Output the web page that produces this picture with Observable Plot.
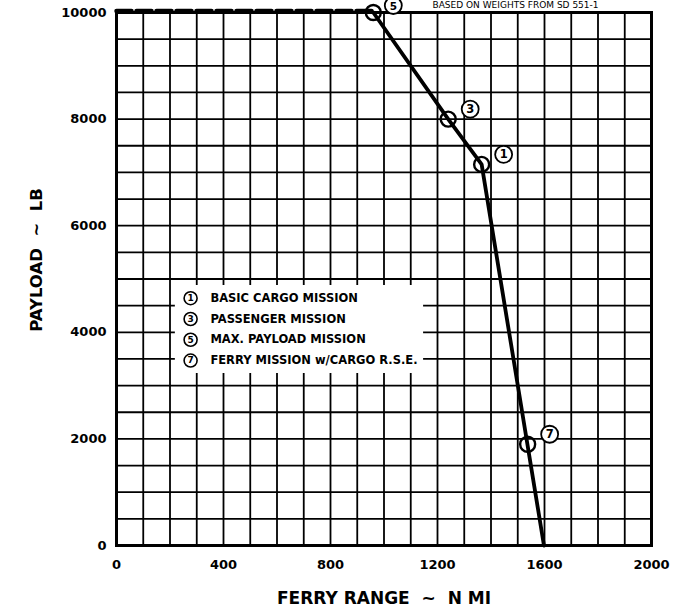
<!DOCTYPE html>
<html>
<head>
<meta charset="utf-8">
<script src="https://cdn.jsdelivr.net/npm/d3@7"></script>
<script src="https://cdn.jsdelivr.net/npm/@observablehq/plot@0.6"></script>
<style>
  html, body { margin: 0; padding: 0; background: white; }
  #chart svg { display: block; }
</style>
</head>
<body>
<div id="chart"></div>
<script>
// ---- data ----
const xTicks = [0, 400, 800, 1200, 1600, 2000];
const yTicks = [0, 2000, 4000, 6000, 8000, 10000];

// solid payload-range curve
const curveRange   = [960, 1240, 1365, 1598];
const curvePayload = [10000, 8000, 7150, 0];

// dashed max-payload limit line
const dashRange   = [0, 960];
const dashPayload = [10000, 10000];

// mission points
const missionIds     = ["5", "3", "1", "7"];
const missionRange   = [960, 1240, 1365, 1537];
const missionPayload = [10000, 8000, 7150, 1900];

// legend
const legendIds    = ["1", "3", "5", "7"];
const legendLabels = ["BASIC CARGO MISSION", "PASSENGER MISSION", "MAX. PAYLOAD MISSION", "FERRY MISSION w/CARGO R.S.E."];

const xLabel = "FERRY RANGE  ~  N MI";
const yLabel = "PAYLOAD  ~  LB";
const noteText = "BASED ON WEIGHTS FROM SD 551-1";

// ---- tables built from arrays ----
const curve = curveRange.map((x, i) => ({x, y: curvePayload[i]}));
const dash = dashRange.map((x, i) => ({x, y: dashPayload[i]}));
const missions = missionIds.map((id, i) => ({id, x: missionRange[i], y: missionPayload[i]}));
const topMission = missions.filter(d => d.id === "5");
const otherMissions = missions.filter(d => d.id !== "5");
const legend = legendIds.map((id, i) => ({id, label: legendLabels[i], i}));

const font = "DejaVu Sans, Liberation Sans, sans-serif";
const legendY = d => 4640 - d.i * 390;
const fmt = d => String(d);

const chart = Plot.plot({
  width: 674,
  height: 614,
  marginLeft: 116,
  marginRight: 23,
  marginTop: 12,
  marginBottom: 69,
  style: {fontFamily: font, background: "white", color: "black"},
  x: {domain: [0, 2000]},
  y: {domain: [0, 10000]},
  marks: [
    Plot.ruleX(d3.range(0, 2001, 100), {stroke: "black", strokeWidth: 1.8}),
    Plot.ruleY(d3.range(0, 10001, 500), {stroke: "black", strokeWidth: 1.8}),
    Plot.rect([0], {x1: 220, x2: 1148, y1: 3227, y2: 4878, fill: "white"}),
    Plot.frame({stroke: "black", strokeWidth: 3}),
    Plot.line(dash, {x: "x", y: "y", dy: -1.5, stroke: "black", strokeWidth: 4.5, strokeDasharray: "15,5"}),
    Plot.line(curve, {x: "x", y: "y", stroke: "black", strokeWidth: 3.8, strokeLinejoin: "round"}),
    Plot.dot(missions, {x: "x", y: "y", r: 7.5, stroke: "black", strokeWidth: 2.4, fill: "none"}),
    // numbered callouts
    Plot.dot(otherMissions, {x: "x", y: "y", dx: 22, dy: -10, r: 8.5, stroke: "black", strokeWidth: 1.8, fill: "white"}),
    Plot.text(otherMissions, {x: "x", y: "y", dx: 22, dy: -10, text: "id", fontSize: 11.5, fontWeight: "bold", fill: "black"}),
    Plot.dot(topMission, {x: "x", y: "y", dx: 20, dy: -7, r: 8.5, stroke: "black", strokeWidth: 1.8, fill: "white"}),
    Plot.text(topMission, {x: "x", y: "y", dx: 20, dy: -6, text: "id", fontSize: 10.5, fontWeight: "bold", fill: "black"}),
    // legend
    Plot.dot(legend, {x: () => 277, y: legendY, r: 6.5, stroke: "black", strokeWidth: 1.6, fill: "white"}),
    Plot.text(legend, {x: () => 277, y: legendY, text: "id", fontSize: 9, fontWeight: "bold", fill: "black"}),
    Plot.text(legend, {x: () => 351, y: legendY, text: "label", textAnchor: "start", fontSize: 11.5, fontWeight: "bold", fill: "black"}),
    // axes
    Plot.axisX({ticks: xTicks, tickFormat: fmt, tickSize: 0, tickPadding: 14, fontSize: 13, fontWeight: "bold", label: null}),
    Plot.axisY({ticks: yTicks, tickFormat: fmt, tickSize: 0, tickPadding: 10, fontSize: 13, fontWeight: "bold", label: null}),
    Plot.text([xLabel], {frameAnchor: "bottom", dy: 53, lineAnchor: "middle", textAnchor: "middle", fontSize: 17, fontWeight: "bold", fill: "black"}),
    Plot.text([yLabel], {frameAnchor: "left", dx: -80, dy: -19, rotate: -90, lineAnchor: "middle", textAnchor: "middle", fontSize: 16.5, fontWeight: "bold", fill: "black"}),
    Plot.text([noteText], {frameAnchor: "top-left", dx: 316, dy: -7, textAnchor: "start", lineAnchor: "middle", fontSize: 9, fill: "black"})
  ]
});
document.getElementById("chart").append(chart);
</script>
</body>
</html>
